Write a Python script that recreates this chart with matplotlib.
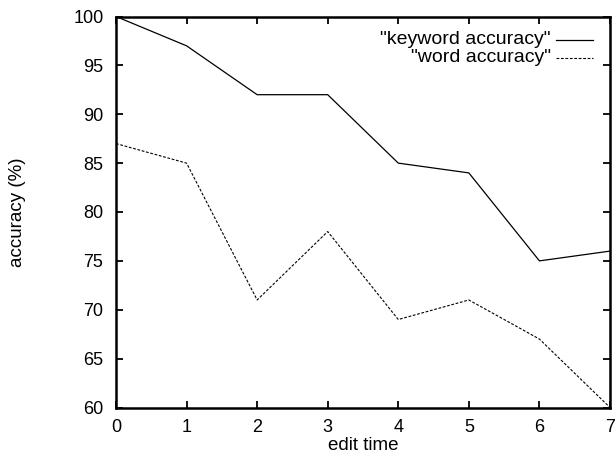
import matplotlib
matplotlib.use("Agg")
import matplotlib.pyplot as plt
from matplotlib.lines import Line2D

plt.rcParams['font.family'] = ['Liberation Sans', 'DejaVu Sans']

edit_time = [0, 1, 2, 3, 4, 5, 6, 7]
keyword_accuracy = [100, 97, 92, 92, 85, 84, 75, 76]
word_accuracy = [87, 85, 71, 78, 69, 71, 67, 60]
series_labels = ['"keyword accuracy"', '"word accuracy"']
xticks = [0, 1, 2, 3, 4, 5, 6, 7]
yticks = [60, 65, 70, 75, 80, 85, 90, 95, 100]

fig = plt.figure(figsize=(6.16, 4.54), dpi=100)
ax = fig.add_axes([116/616, 1-407.5/454, (610-116)/616, (407.5-16.5)/454])

ax.plot(edit_time, keyword_accuracy, color='black', lw=0.9, solid_joinstyle='miter')
ax.plot(edit_time, word_accuracy, color='black', lw=0.8, linestyle=(0, (2.5, 1.5)))

ax.set_xlim(0, 7)
ax.set_ylim(60, 100)
ax.set_xticks(xticks)
ax.set_yticks(yticks)
ax.tick_params(direction='in', length=5, width=1.3, top=True, right=True,
               labelsize=13, colors='black')
ax.tick_params(axis='x', pad=8)
ax.tick_params(axis='y', pad=9)
for s in ax.spines.values():
    s.set_linewidth(1.8)

ax.set_xlabel('edit time', fontsize=13.5, labelpad=1)
ax.yaxis.set_label_coords(-(116-18)/494, 0.5 - (206-212)/391)
ax.set_ylabel('accuracy (%)', fontsize=13.5, va='center')

# legend (gnuplot style: right-aligned text, sample on the right)
ly = [40, 58]
styles = [dict(lw=0.9), dict(lw=0.8, linestyle=(0, (2.5, 1.5)))]
for lab, y, st in zip(series_labels, ly, styles):
    fig.text(551/616, 1 - y/454, lab, ha='right', va='center', fontsize=14)
    fig.add_artist(Line2D([556/616, 593/616], [1 - y/454, 1 - y/454],
                          color='black', transform=fig.transFigure, **st))

fig.savefig('out.png', dpi=100)
